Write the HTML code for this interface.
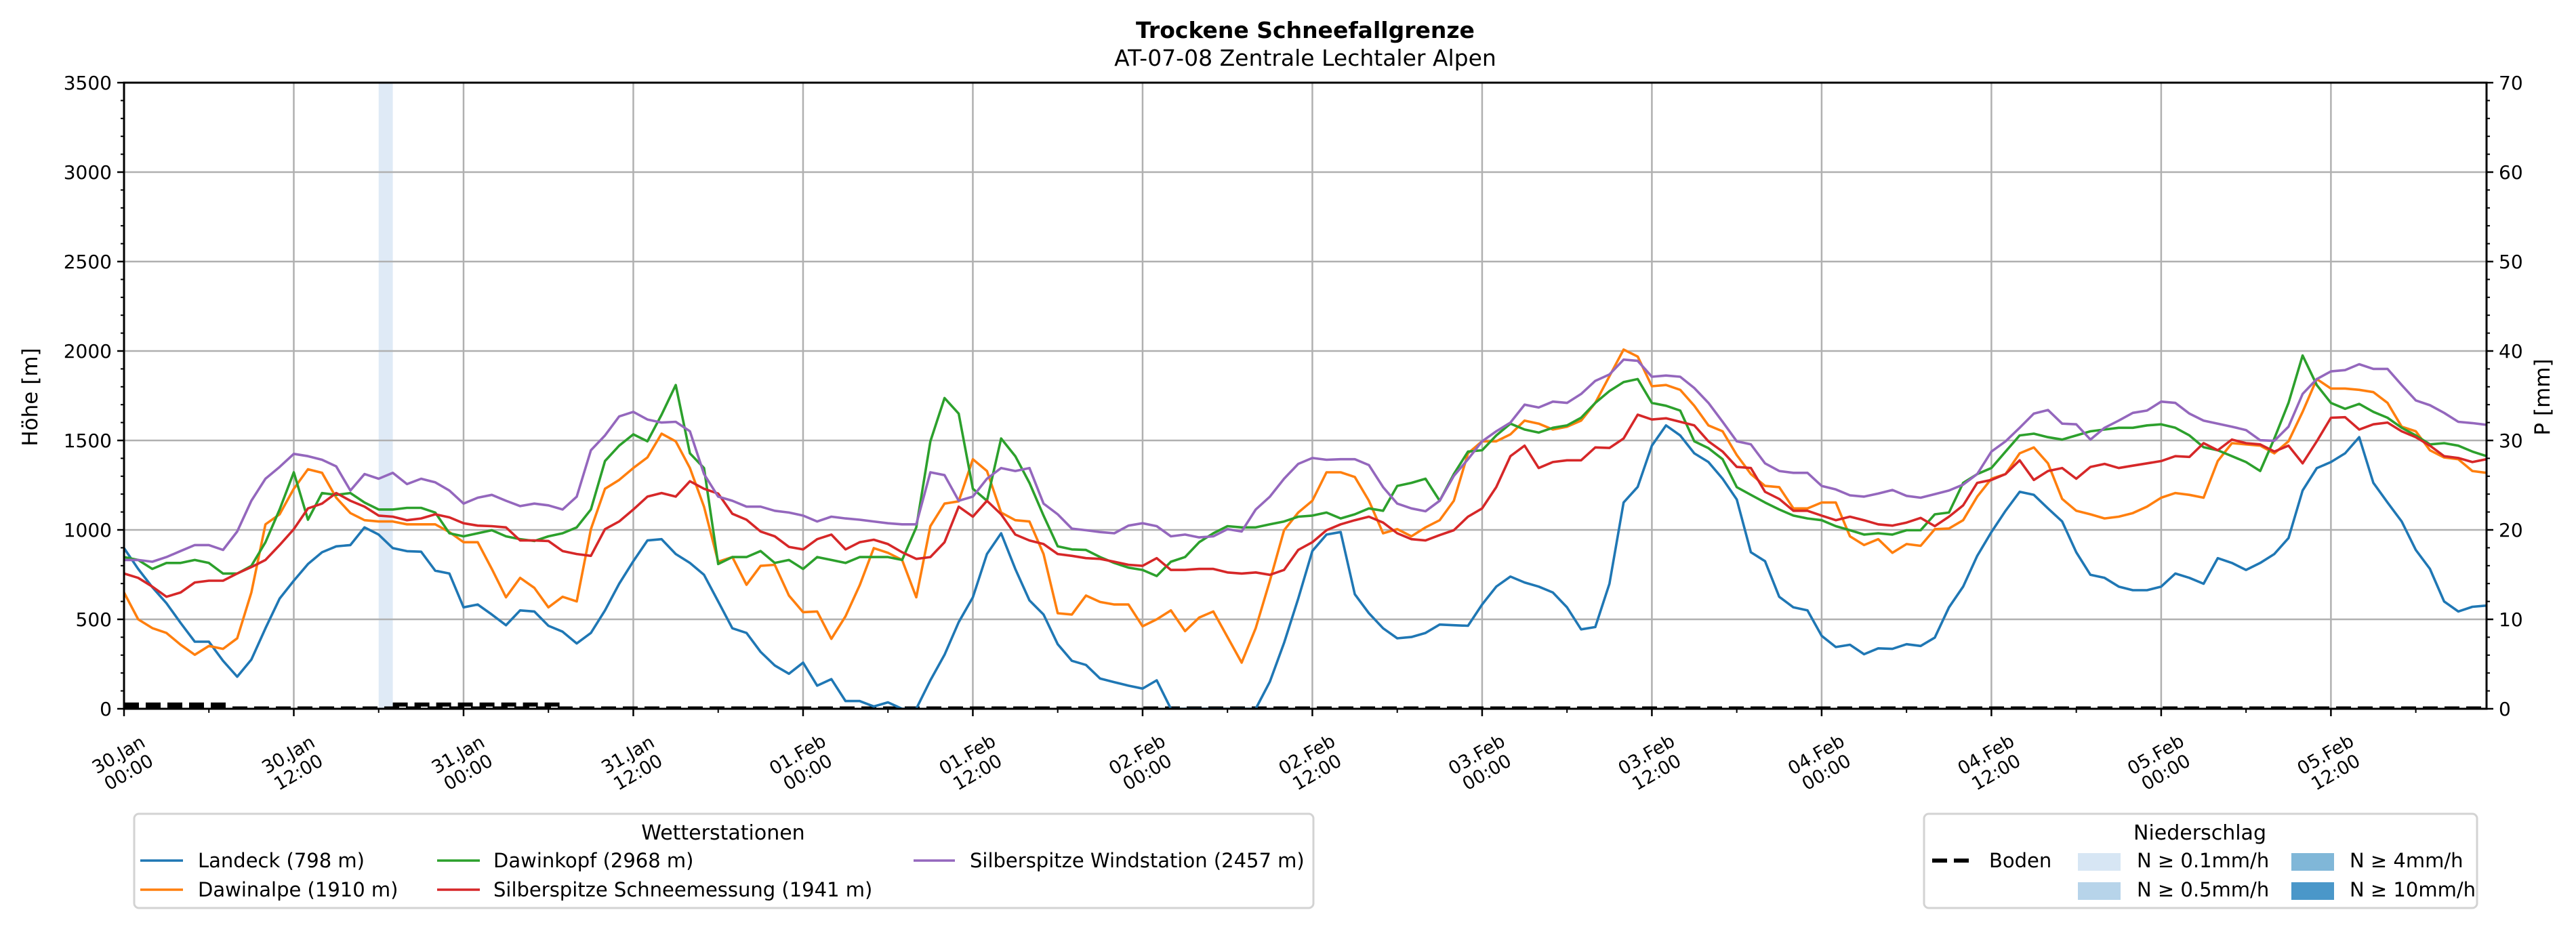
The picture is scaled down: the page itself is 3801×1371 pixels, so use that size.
<!DOCTYPE html>
<html><head><meta charset="utf-8">
<style>
html,body{margin:0;padding:0;background:#fff;}
svg{display:block;font-family:"DejaVu Sans","Liberation Sans",sans-serif;}
</style></head>
<body>
<svg id="chart" width="3801" height="1371" viewBox="0 0 3801 1371" xmlns="http://www.w3.org/2000/svg">
<rect x="0" y="0" width="3801" height="1371" fill="#fff"/>
<text x="1926" y="56" text-anchor="middle" font-size="33" font-weight="bold">Trockene Schneefallgrenze</text>
<text x="1926" y="97" text-anchor="middle" font-size="33">AT-07-08 Zentrale Lechtaler Alpen</text>
<g id="plot"></g>
<text transform="translate(55,586) rotate(-90)" text-anchor="middle" font-size="31">Höhe [m]</text>
<text transform="translate(3762,586) rotate(-90)" text-anchor="middle" font-size="31">P [mm]</text>

<g>
<rect x="198" y="1201" width="1740" height="139" rx="7" fill="#fff" stroke="#d3d3d3" stroke-width="3"/>
<text x="1067" y="1239" text-anchor="middle" font-size="30">Wetterstationen</text>
<g><line x1="207" y1="1270" x2="270" y2="1270" stroke="#1f77b4" stroke-width="3.5"/><text x="292" y="1280" font-size="29">Landeck (798 m)</text></g>
<g><line x1="207" y1="1313" x2="270" y2="1313" stroke="#ff7f0e" stroke-width="3.5"/><text x="292" y="1323" font-size="29">Dawinalpe (1910 m)</text></g>
<g><line x1="645" y1="1270" x2="708" y2="1270" stroke="#2ca02c" stroke-width="3.5"/><text x="728" y="1280" font-size="29">Dawinkopf (2968 m)</text></g>
<g><line x1="645" y1="1313" x2="708" y2="1313" stroke="#d62728" stroke-width="3.5"/><text x="728" y="1323" font-size="29">Silberspitze Schneemessung (1941 m)</text></g>
<g><line x1="1348" y1="1270" x2="1409" y2="1270" stroke="#9467bd" stroke-width="3.5"/><text x="1431" y="1280" font-size="29">Silberspitze Windstation (2457 m)</text></g>
</g>

<g>
<rect x="2839" y="1201" width="816" height="139" rx="7" fill="#fff" stroke="#d3d3d3" stroke-width="3"/>
<text x="3246" y="1239" text-anchor="middle" font-size="30">Niederschlag</text>
<g><line x1="2851" y1="1270" x2="2907" y2="1270" stroke="#000" stroke-width="6" stroke-dasharray="22,10"/><text x="2935" y="1280" font-size="29">Boden</text></g>
<g><rect x="3066" y="1259" width="63" height="26" fill="#d7e6f4"/><text x="3153" y="1280" font-size="29">N ≥ 0.1mm/h</text></g>
<g><rect x="3066" y="1302" width="63" height="26" fill="#b7d4ea"/><text x="3153" y="1323" font-size="29">N ≥ 0.5mm/h</text></g>
<g><rect x="3381" y="1259" width="63" height="26" fill="#80b7d8"/><text x="3467" y="1280" font-size="29">N ≥ 4mm/h</text></g>
<g><rect x="3381" y="1302" width="63" height="26" fill="#4a97c9"/><text x="3467" y="1323" font-size="29">N ≥ 10mm/h</text></g>
</g>
</svg>
<script>
const landeck=[898,782,680,590,480,375,375,268,179,275,450,616,716,809,875,908,915,1014,974,898,881,878,772,756,567,583,527,467,550,544,464,431,365,424,550,699,825,941,948,865,815,749,600,450,424,318,242,196,258,129,166,43,43,13,36,0,0,159,302,484,623,865,981,782,606,527,361,268,245,169,149,129,113,159,0,0,0,0,0,0,0,152,368,616,882,974,988,640,534,450,394,401,424,471,467,464,583,683,739,706,683,650,567,444,457,699,1153,1240,1471,1584,1528,1428,1379,1286,1170,875,825,626,567,550,408,345,358,305,338,335,361,351,398,567,683,855,988,1107,1213,1196,1120,1047,875,749,732,683,663,663,683,756,732,699,842,815,776,815,865,954,1220,1345,1379,1428,1518,1263,1153,1047,888,782,600,544,570,577];
const dawinalpe=[650,500,451,424,358,302,351,335,394,650,1031,1087,1230,1339,1319,1180,1094,1054,1047,1047,1031,1031,1031,988,931,931,782,623,732,676,567,626,600,1004,1230,1279,1346,1405,1538,1495,1346,1130,822,848,693,799,805,633,540,544,391,517,690,898,872,832,623,1021,1147,1160,1395,1329,1097,1054,1047,865,534,527,633,597,583,583,461,500,550,434,510,544,401,258,451,716,998,1097,1163,1322,1322,1296,1163,981,1004,964,1014,1054,1163,1428,1495,1495,1534,1611,1594,1561,1577,1611,1710,1859,2008,1969,1803,1810,1783,1694,1584,1551,1418,1312,1246,1239,1120,1120,1153,1153,964,915,948,872,921,911,1004,1008,1054,1186,1286,1312,1428,1461,1372,1173,1107,1087,1064,1074,1094,1130,1180,1206,1196,1180,1385,1485,1478,1471,1428,1495,1660,1843,1790,1790,1783,1770,1710,1577,1551,1445,1405,1395,1329,1319];
const dawinkopf=[848,832,782,815,815,832,815,756,756,799,931,1114,1322,1057,1206,1196,1206,1153,1114,1114,1123,1123,1097,981,964,981,998,964,948,938,964,981,1014,1114,1385,1471,1534,1495,1644,1810,1428,1346,809,848,848,882,815,832,782,848,832,815,848,848,848,832,1014,1495,1737,1650,1230,1163,1511,1412,1263,1080,908,891,888,848,815,789,776,742,822,848,931,981,1021,1014,1014,1031,1047,1074,1080,1097,1064,1087,1120,1107,1246,1263,1286,1163,1312,1438,1445,1528,1594,1561,1544,1571,1584,1627,1710,1776,1826,1843,1710,1694,1667,1495,1457,1395,1239,1196,1153,1114,1080,1064,1054,1021,998,974,981,974,998,998,1087,1097,1263,1312,1346,1438,1528,1538,1518,1505,1528,1551,1561,1571,1571,1584,1590,1571,1528,1462,1445,1412,1379,1329,1511,1710,1975,1810,1710,1677,1704,1660,1627,1571,1528,1478,1485,1471,1438,1412];
const schnee=[756,732,683,626,650,706,716,716,756,792,832,915,1004,1120,1147,1206,1163,1130,1080,1074,1054,1064,1087,1070,1037,1024,1021,1014,941,941,938,882,865,855,1004,1047,1114,1186,1206,1186,1272,1230,1203,1090,1057,991,964,905,891,948,974,891,931,945,921,875,838,848,931,1130,1074,1163,1087,974,941,921,865,855,842,838,822,805,799,842,776,776,782,782,762,756,762,749,776,888,931,998,1031,1054,1074,1041,981,948,941,971,998,1074,1120,1239,1412,1471,1346,1379,1389,1389,1461,1458,1511,1644,1617,1624,1604,1584,1495,1438,1352,1346,1213,1173,1107,1107,1080,1054,1074,1054,1031,1024,1041,1067,1021,1074,1137,1263,1279,1312,1389,1279,1329,1346,1286,1352,1369,1346,1359,1372,1385,1412,1408,1485,1445,1505,1485,1478,1438,1471,1372,1495,1627,1630,1561,1590,1600,1551,1518,1471,1412,1402,1379,1395];
const wind=[832,832,822,848,882,915,915,888,991,1163,1286,1352,1425,1412,1392,1355,1220,1312,1286,1319,1256,1286,1266,1220,1147,1180,1196,1163,1133,1147,1137,1114,1186,1445,1528,1634,1660,1617,1600,1604,1551,1312,1186,1163,1130,1130,1107,1097,1080,1047,1074,1064,1057,1047,1037,1031,1031,1322,1306,1163,1186,1286,1346,1329,1346,1147,1087,1007,998,988,981,1024,1037,1021,964,974,958,964,1004,991,1114,1186,1286,1369,1402,1392,1395,1395,1362,1239,1147,1120,1104,1163,1302,1395,1495,1551,1600,1700,1684,1717,1710,1760,1833,1869,1952,1945,1856,1863,1856,1793,1710,1604,1495,1478,1372,1329,1319,1319,1246,1226,1193,1186,1203,1223,1190,1180,1200,1220,1253,1312,1438,1495,1571,1650,1670,1594,1590,1505,1571,1611,1654,1667,1717,1710,1650,1611,1594,1577,1558,1501,1498,1577,1760,1843,1886,1893,1926,1900,1900,1810,1724,1697,1654,1604,1597,1587];
const bodenStart=[0,19];
const bodenEnd=[7.5,31];
const bodenValue=[0.4,0.4];
const precipHours=[18];
const precipClass=[0];
const yTicks=[0,500,1000,1500,2000,2500,3000,3500];
const y2Ticks=[0,10,20,30,40,50,60,70];
const xTickLines1=["30.Jan","30.Jan","31.Jan","31.Jan","01.Feb","01.Feb","02.Feb","02.Feb","03.Feb","03.Feb","04.Feb","04.Feb","05.Feb","05.Feb"];
const xTickLines2=["00:00","12:00","00:00","12:00","00:00","12:00","00:00","12:00","00:00","12:00","00:00","12:00","00:00","12:00"];

const NS="http://www.w3.org/2000/svg";
const L=183,R=3669,T=122,B=1046,HMAX=167;
function xs(h){return L+h*(R-L)/HMAX;}
function ys(v){return B-v*(B-T)/3500;}
function y2s(p){return B-p*(B-T)/70;}
const plot=document.getElementById('plot');
function mk(tag,attrs,parent){const e=document.createElementNS(NS,tag);for(const k in attrs)e.setAttribute(k,attrs[k]);(parent||plot).appendChild(e);return e;}
const pcolors=["#dfeaf6","#b7d4ea","#80b7d8","#4a97c9"];
precipHours.forEach((h,i)=>{
  const r=mk('rect',{x:xs(h),y:T,width:xs(h+1)-xs(h),height:B-T,fill:pcolors[precipClass[i]]});
  
  
});
yTicks.forEach(v=>{
  const g=mk('line',{x1:L,x2:R,y1:ys(v),y2:ys(v),stroke:'#b0b0b0','stroke-width':2.5});
  
  
});
for(let i=0;i<xTickLines1.length;i++){
  const x=xs(i*12);
  const g=mk('line',{x1:x,x2:x,y1:T,y2:B,stroke:'#b0b0b0','stroke-width':2.5});
  
  
}
bodenStart.forEach((s,i)=>{
  const l=mk('line',{x1:xs(s),x2:xs(bodenEnd[i]),y1:y2s(bodenValue[i])-1,y2:y2s(bodenValue[i])-1,stroke:'#000','stroke-width':6,'stroke-dasharray':'22,10'});
  
  
});
const zl=mk('line',{x1:L,x2:R,y1:B-2,y2:B-2,stroke:'#000','stroke-width':3,'stroke-dasharray':'22,10'});


const series=[[landeck,'#1f77b4','line-landeck'],[dawinalpe,'#ff7f0e','line-dawinalpe'],[dawinkopf,'#2ca02c','line-dawinkopf'],[schnee,'#d62728','line-silberspitze-schnee'],[wind,'#9467bd','line-silberspitze-wind']];
const clip=mk('clipPath',{id:'pc'});mk('rect',{x:L,y:T,width:R-L,height:B-T},clip);
series.forEach(s=>{
  const d=s[0].map((v,i)=>(i?'L':'M')+xs(i).toFixed(1)+','+ys(v).toFixed(1)).join('');
  const p=mk('path',{d:d,fill:'none',stroke:s[1],'stroke-width':3.6,'stroke-linejoin':'round','clip-path':'url(#pc)'});
  
  
});
const fr=mk('rect',{x:L,y:T,width:R-L,height:B-T,fill:'none',stroke:'#000','stroke-width':3});


for(let v=0;v<=3500;v+=100){const maj=v%500===0;mk('line',{x1:L,x2:L-(maj?10:5),y1:ys(v),y2:ys(v),stroke:'#000','stroke-width':maj?2.5:2});}
yTicks.forEach(v=>{
  const t=mk('text',{x:L-18,y:ys(v)+10,'text-anchor':'end','font-size':28});t.textContent=v;
  
  
});
for(let p=0;p<=70;p+=2){const maj=p%10===0;mk('line',{x1:R,x2:R+(maj?10:5),y1:y2s(p),y2:y2s(p),stroke:'#000','stroke-width':maj?2.5:2});}
y2Ticks.forEach(p=>{
  const t=mk('text',{x:R+18,y:y2s(p)+10,'font-size':28});t.textContent=p;
  
  
});
for(let h=0;h<=HMAX;h+=6){const maj=h%12===0;mk('line',{x1:xs(h),x2:xs(h),y1:B,y2:B+(maj?11:6),stroke:'#000','stroke-width':maj?2.5:2});}
xTickLines1.forEach((s,i)=>{
  const g=mk('g',{transform:'translate('+(xs(i*12)-1)+',1126) rotate(-30)'});
  
  
  const a=mk('text',{x:0,y:-5,'text-anchor':'middle','font-size':27},g);a.textContent=s;
  const b=mk('text',{x:0,y:25,'text-anchor':'middle','font-size':27},g);b.textContent=xTickLines2[i];
});
</script>
</body></html>
